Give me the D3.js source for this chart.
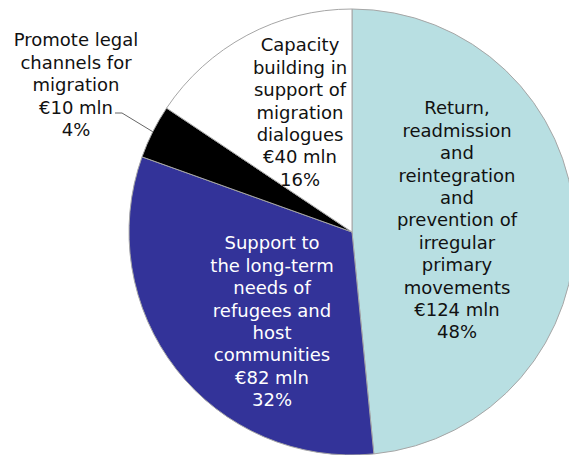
<!DOCTYPE html>
<html>
<head>
<meta charset="utf-8">
<script src="https://cdn.jsdelivr.net/npm/d3@7"></script>
<style>
  body { margin: 0; background: #fff; }
  svg { display: block; }
  text { font-family: "DejaVu Sans", Verdana, sans-serif; font-size: 18px; }
</style>
</head>
<body>
<svg id="chart"></svg>
<script>
// data
var categories = [
  "Return, readmission and reintegration and prevention of irregular primary movements",
  "Support to the long-term needs of refugees and host communities",
  "Promote legal channels for migration",
  "Capacity building in support of migration dialogues"
];
var values = [124, 82, 10, 40];          // € mln
var percents = ["48%", "32%", "4%", "16%"];
var labelLines = [
  ["Return,", "readmission", "and", "reintegration", "and", "prevention of", "irregular", "primary", "movements"],
  ["Support to", "the long-term", "needs of", "refugees and", "host", "communities"],
  ["Promote legal", "channels for", "migration"],
  ["Capacity", "building in", "support of", "migration", "dialogues"]
];
var colors = ["#b8dfe2", "#333399", "#000000", "#ffffff"];
var textColors = ["#111", "#fff", "#111", "#111"];

var width = 569, height = 455;
var cx = 352, cy = 232, radius = 223;

var svg = d3.select("#chart")
    .attr("width", width)
    .attr("height", height);

var data = categories.map(function(c, i) {
  return {name: c, value: values[i], pct: percents[i], lines: labelLines[i].concat(["€" + values[i] + " mln", percents[i]])};
});

var pie = d3.pie()
    .sort(null)
    .value(function(d) { return d.value; });

var arc = d3.arc()
    .innerRadius(0)
    .outerRadius(radius);

var arcs = pie(data);

var g = svg.append("g")
    .attr("transform", "translate(" + cx + "," + cy + ")");

g.selectAll("path.slice")
    .data(arcs)
  .enter().append("path")
    .attr("class", "slice")
    .attr("d", arc)
    .attr("fill", function(d, i) { return colors[i]; })
    .attr("stroke", "#a6a6a6")
    .attr("stroke-width", 1);

// label centres, relative to pie centre
var labelOffset = [[105, -124], [-80, 11], [-276, -192], [-52, -187]];
var lineH = 22.4;

g.selectAll("text.lbl")
    .data(arcs)
  .enter().append("text")
    .attr("class", "lbl")
    .attr("text-anchor", "middle")
    .attr("fill", function(d, i) { return textColors[i]; })
    .each(function(d, i) {
      var t = d3.select(this);
      d.data.lines.forEach(function(line, j) {
        t.append("tspan")
          .attr("x", labelOffset[i][0])
          .attr("y", labelOffset[i][1] + j * lineH)
          .attr("dy", "0.35em")
          .text(line);
      });
    });

// leader line for the small slice
var small = arcs[2];
var outer = d3.arc().innerRadius(radius).outerRadius(radius).centroid(small);
g.append("polyline")
    .attr("points", [[-237, -119], [-230, -119], outer].map(function(p) { return p.join(","); }).join(" "))
    .attr("fill", "none")
    .attr("stroke", "#666")
    .attr("stroke-width", 1);
</script>
</body>
</html>
